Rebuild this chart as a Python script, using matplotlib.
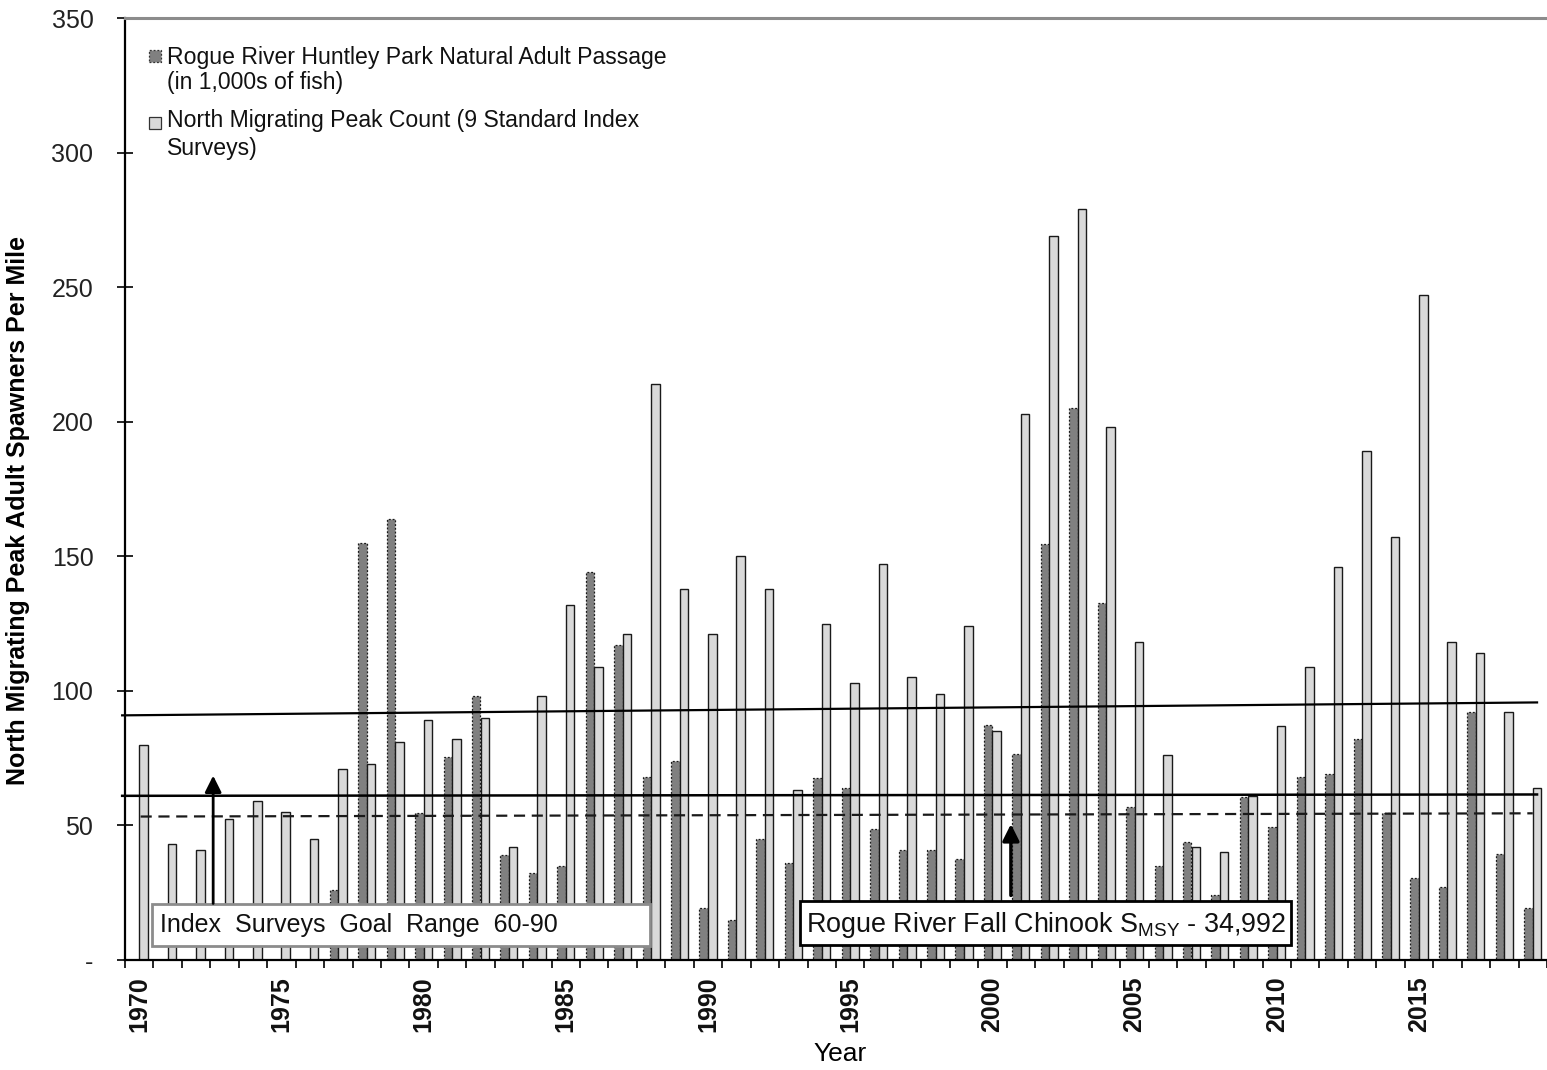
import matplotlib
matplotlib.use('Agg')
import matplotlib.pyplot as plt
from matplotlib.patches import Rectangle
import numpy as np

plt.rcParams['font.family'] = ['Liberation Sans', 'DejaVu Sans']
plt.rcParams['mathtext.fontset'] = 'custom'
plt.rcParams['mathtext.rm'] = 'Liberation Sans'

# ---------------- data ----------------
years = list(range(1970, 2020))
huntley = [np.nan, np.nan, np.nan, np.nan, np.nan, np.nan, np.nan, 26, 155, 164,
           54.5, 75.5, 98, 39, 32.5, 35, 144, 117, 68, 74,
           19.5, 15, 45, 36, 67.5, 64, 48.5, 41, 41, 37.5,
           87.5, 76.5, 154.5, 205, 132.5, 57, 35, 44, 24, 60.5,
           49.5, 68, 69, 82, 54.5, 30.5, 27, 92, 39.5, 19.5]
peak = [80, 43, 41, 52.5, 59, 55, 45, 71, 73, 81,
        89, 82, 90, 42, 98, 132, 109, 121, 214, 138,
        121, 150, 138, 63, 125, 103, 147, 105, 99, 124,
        85, 203, 269, 279, 198, 118, 76, 42, 40, 61,
        87, 109, 146, 189, 157, 247, 118, 114, 92, 64]
series_labels = ["Rogue River Huntley Park Natural Adult Passage",
                 "(in 1,000s of fish)",
                 "North Migrating Peak Count (9 Standard Index",
                 "Surveys)"]
yticks = [0, 50, 100, 150, 200, 250, 300, 350]
yticklabels = ['-', '50', '100', '150', '200', '250', '300', '350']
label_years = [1970, 1975, 1980, 1985, 1990, 1995, 2000, 2005, 2010, 2015]
upper_line = [90.9, 95.7]   # values at left / right edge
goal_line = [61.0, 61.5]
dashed_line = [53.3, 54.5]
goal_arrow = [21, 68.5]
smsy_arrow = [24, 50.5]

# ---------------- figure ----------------
fig = plt.figure(figsize=(15.47, 10.70), dpi=100)
ax = fig.add_axes([125/1547, 110/1070, 1422/1547, 942/1070])

x = np.array(years, dtype=float)
w = 0.30
ax.bar(x - w, huntley, width=w, align='edge', color='#808080',
       edgecolor='#1a1a1a', linewidth=0.9, linestyle=(0, (1.5, 1.5)), zorder=2)
ax.bar(x, peak, width=w, align='edge', color='#d9d9d9',
       edgecolor='#1a1a1a', linewidth=1.0, zorder=2)

xl = (1969.5, 2019.15)
ax.set_xlim(*xl)
ax.set_ylim(0, 350)

# reference lines
ax.plot([1969.4, xl[1]], upper_line, color='black', lw=1.6, zorder=3, clip_on=False)
ax.plot([1969.4, xl[1]], goal_line, color='black', lw=1.8, zorder=3, clip_on=False)
ax.plot([1970.05, 2019.0], dashed_line, color='#1a1a1a', lw=1.6,
        linestyle=(0, (5, 3)), zorder=3)

# annotation boxes
ax.add_patch(Rectangle((1970.45, 5.2), 1987.96 - 1970.45, 20.8 - 5.2,
                       facecolor='white', edgecolor='#8c8c8c', lw=2, zorder=4))
ax.text(1970.73, 10.5, "Index  Surveys  Goal  Range  60-90", fontsize=18,
        va='baseline', ha='left', zorder=5, color='#111111')
ax.add_patch(Rectangle((1993.23, 5.6), 2010.5 - 1993.23, 21.9 - 5.6,
                       facecolor='white', edgecolor='black', lw=2, zorder=4))
ax.text(1993.44, 10.5, r"Rogue River Fall Chinook S$_\mathregular{MSY}$ - 34,992",
        fontsize=19.4, va='baseline', ha='left', zorder=5, color='#111111')

# arrows
ax.annotate('', xy=(1972.6, goal_arrow[1]), xytext=(1972.6, goal_arrow[0]),
            arrowprops=dict(arrowstyle='-|>,head_length=0.5,head_width=0.25',
                            mutation_scale=20, lw=2, color='black',
                            shrinkA=0, shrinkB=0), zorder=5)
ax.annotate('', xy=(2000.65, smsy_arrow[1]), xytext=(2000.65, smsy_arrow[0]),
            arrowprops=dict(arrowstyle='-|>,head_length=0.5,head_width=0.25',
                            mutation_scale=20, lw=2.5, color='black',
                            shrinkA=0, shrinkB=0), zorder=5)

# legend (manual)
axw, axh = 1422.0, 942.0
def fx(px): return (px - 125) / axw
def fy(py): return (960 - py) / axh
ax.add_patch(Rectangle((fx(149), fy(62)), 12/axw, 12/axh, transform=ax.transAxes,
                       facecolor='#808080', edgecolor='#333333', lw=0.9,
                       linestyle=(0, (1.5, 1.5)), zorder=5))
ax.add_patch(Rectangle((fx(149), fy(129)), 12/axw, 12/axh, transform=ax.transAxes,
                       facecolor='#d9d9d9', edgecolor='#333333', lw=0.9, zorder=5))
for txt, by in zip(series_labels, [64, 89, 127, 155]):
    ax.text(fx(167), fy(by), txt, transform=ax.transAxes, fontsize=16.6,
            va='baseline', ha='left', color='#111111')

# axes styling
ax.spines['right'].set_visible(False)
ax.spines['top'].set_color('#8c8c8c')
ax.spines['top'].set_linewidth(2.2)
ax.spines['left'].set_linewidth(1.6)
ax.spines['bottom'].set_linewidth(1.6)

ax.set_yticks(yticks)
ax.set_yticklabels(yticklabels, fontsize=18, color='#222222')
ax.tick_params(axis='y', direction='inout', length=11.5, width=1.2, pad=17)

ax.set_xticks(label_years)
ax.set_xticklabels([str(y) for y in label_years], rotation=90, fontsize=18,
                   fontweight='bold', color='#111111')
ax.tick_params(axis='x', which='major', length=0, pad=12)
ax.set_xticks(np.arange(1969.5, 2019.6, 1.0), minor=True)
ax.tick_params(axis='x', which='minor', direction='out', length=6, width=1.2)

ax.set_xlabel('Year', fontsize=19)
ax.xaxis.set_label_coords(0.503, -0.087)
ax.set_ylabel('North Migrating Peak Adult Spawners Per Mile', fontsize=18,
              fontweight='bold')
ax.yaxis.set_label_coords(-0.0668, 0.477)

fig.savefig('out.png', dpi=100)
